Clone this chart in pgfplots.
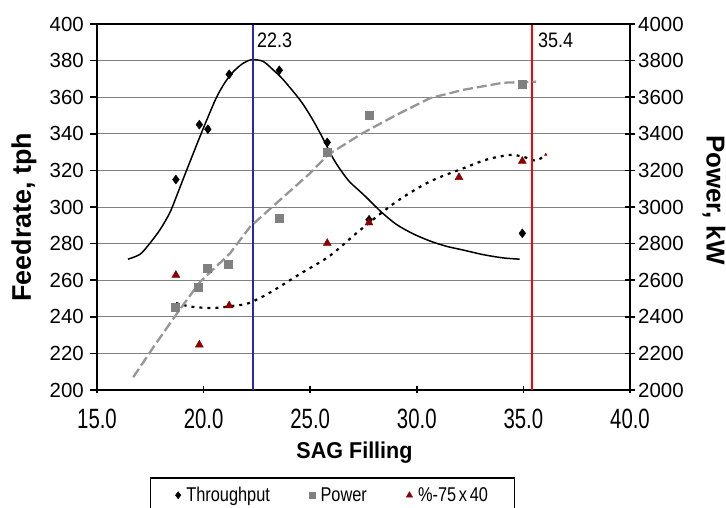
\documentclass[border=0pt]{standalone}
\usepackage{fontspec}
\setmainfont{Liberation Sans}
\usepackage{graphicx}
\usepackage{pgfplots}
\pgfplotsset{compat=1.18}
\definecolor{ptgray}{RGB}{128,128,128}
\definecolor{dashgray}{RGB}{150,150,150}
\definecolor{tri}{RGB}{140,0,0}
\definecolor{vblue}{RGB}{40,40,170}
\newcommand{\cx}[2]{\scalebox{#1}[1]{#2}}
\newcommand{\xl}[1]{\fontsize{28}{28}\selectfont\cx{0.73}{#1}}
\pgfplotsset{
  pointlegend/.style={legend image code/.code={\draw[##1] plot coordinates {(0bp,0bp)};}},
  squarelegend/.style={legend image code/.code={\draw[##1, mark size=2.8bp] plot coordinates {(0bp,0bp)};}},
}
\begin{document}
\begin{tikzpicture}
\useasboundingbox (0,0) rectangle (726bp,508bp);
% ---------------- left axis ----------------
\begin{axis}[
  at={(97bp,118bp)}, anchor=south west, scale only axis,
  width=533bp, height=366bp,
  xmin=15, xmax=40, ymin=200, ymax=400,
  axis x line*=bottom, axis y line*=left,
  axis line style={line width=1.8bp, black},
  xtick={15,20,...,40},
  xticklabels={\xl{15.0},\xl{20.0},\xl{25.0},\xl{30.0},\xl{35.0},\xl{40.0}},
  ytick={200,220,...,400},
  /pgf/number format/assume math mode=true,
  yticklabel={\fontsize{20.5}{20.5}\selectfont\pgfmathprintnumber{\tick}},
  ymajorgrids, grid style={ptgray, line width=0.8bp},
  tick style={black, line width=1.5bp},
  ytick align=outside, xtick align=center, major tick length=7bp,
  yticklabel style={inner sep=0pt, xshift=-6bp},
  xticklabel style={inner sep=0pt, yshift=-15bp},
  clip=false,
]
% throughput trend (solid)
\addplot[black, line width=1.5bp, smooth, tension=0.5] coordinates {
(16.45,271.5) (17.0,274) (17.4,279) (17.95,287.5) (18.42,297) (18.8,308) (19.2,320)
(19.83,338.5) (20.2,349) (20.61,360) (21.0,368) (21.4,374) (21.85,378.5) (22.27,380.5)
(22.8,379.5) (23.3,374.5) (23.74,369.5) (24.52,358.5) (25.0,350) (25.46,340.5)
(26.08,326.5) (26.5,319) (26.87,313.5) (27.48,307) (28.0,301) (28.41,296.5) (29.04,290.5)
(29.8,285.5) (30.6,281.5) (31.4,278.5) (32.17,276.5) (33.1,274) (34.04,272.2) (34.82,271.5)
};
% %-75 x 40 trend (dotted)
\addplot[black, line width=2.2bp, dash pattern=on 3bp off 5bp, smooth, tension=0.5] coordinates {
(18.7,247.5) (19.44,245.5) (20.45,244.8) (21.39,246) (22.0,247) (22.6,250) (23.27,254.3)
(24.52,263.4) (25.93,273.4) (27.34,287.4) (29.04,302.9) (30.6,313.8) (32.17,321.1)
(33.3,326) (34.35,328.4) (34.98,327.5) (35.6,325.3) (36.0,328.4)
};
\addplot[only marks, mark=triangle*, mark size=1.5bp, color=tri] coordinates {(36.05,328.6)};
% vertical reference lines
\addplot[vblue, line width=1.8bp] coordinates {(22.3,200) (22.3,400)};
\addplot[red, line width=1.8bp] coordinates {(35.4,200) (35.4,400)};
% throughput points
\addplot[only marks, mark=diamond*, mark size=4.5bp, black] coordinates {
(18.7,315) (19.8,345) (20.2,342.5) (21.2,372.5) (23.55,374.7) (25.8,335.3) (27.76,293) (34.95,285.6)
};
% %-75 x 40 points
\addplot[only marks, mark=triangle*, mark size=4.6bp, color=tri] coordinates {
(18.7,262.8) (19.8,224.7) (21.2,246.1) (25.8,280.2) (27.76,291.4) (31.98,316.2) (34.95,325.1)
};
\node[anchor=north west, inner sep=0pt, font=\fontsize{21}{21}\selectfont] at (axis cs:22.5,395.2) {\cx{0.86}{22.3}};
\node[anchor=north west, inner sep=0pt, font=\fontsize{21}{21}\selectfont] at (axis cs:35.68,395.2) {\cx{0.86}{35.4}};
\draw[black, line width=2.6bp] (rel axis cs:0,1) -- (rel axis cs:1,1);
\end{axis}
% ---------------- right axis ----------------
\begin{axis}[
  at={(97bp,118bp)}, anchor=south west, scale only axis,
  width=533bp, height=366bp,
  xmin=15, xmax=40, ymin=2000, ymax=4000,
  axis x line=none, axis y line*=right,
  axis line style={line width=1.8bp, black},
  ytick={2000,2200,...,4000},
  /pgf/number format/assume math mode=true,
  /pgf/number format/set thousands separator={},
  yticklabel={\fontsize{20.5}{20.5}\selectfont\pgfmathprintnumber{\tick}},
  tick style={black, line width=1.5bp},
  ytick align=center, major tick length=10bp,
  yticklabel style={inner sep=0pt, xshift=3bp},
  legend columns=3,
  legend style={at={(0.4418,-0.2377)}, anchor=north, draw=black, line width=1.6bp,
    inner xsep=25bp, inner ysep=8bp,
    font=\fontsize{20}{20}\selectfont,
    nodes={inner sep=1.5bp},
    /tikz/every even column/.append style={column sep=38bp},
    /tikz/every odd column/.append style={column sep=4bp}},
  legend cell align=left,
]
\addlegendimage{only marks, mark=diamond*, black, line width=0.4bp, mark size=3.6bp, pointlegend}
\addlegendentry{\cx{0.82}{Throughput}}
% power trend
\addplot[dashgray, line width=2.3bp, dash pattern=on 10bp off 4bp, forget plot] coordinates {
(16.7,2070) (17.64,2233) (18.73,2415) (19.83,2590) (21.24,2747) (22.18,2892) (23.58,3038)
(24.99,3184) (25.82,3284) (27.48,3405) (29.04,3503) (30.6,3594) (32.17,3640) (34.04,3679) (35.6,3685)
};
\addplot[only marks, mark=square*, mark size=4bp, color=ptgray, line width=0.4bp, squarelegend] coordinates {
(18.66,2452) (19.74,2561) (20.19,2665) (21.17,2687) (23.55,2938) (25.8,3302) (27.76,3499) (34.95,3670)
};
\addlegendentry{\cx{0.82}{Power}}
\addlegendimage{only marks, mark=triangle*, color=tri, line width=0.4bp, mark size=3.6bp, pointlegend}
\addlegendentry{\cx{0.82}{\%-75\,x\,40}}
\end{axis}
% axis titles
\node[rotate=90, font=\bfseries\fontsize{27}{27}\selectfont] at (24bp,291bp) {Feedrate, tph};
\node[rotate=-90, font=\bfseries\fontsize{26}{26}\selectfont] at (714bp,308bp) {Power, kW};
\node[font=\bfseries\fontsize{23}{23}\selectfont] at (354.5bp,55bp) {\cx{0.94}{SAG Filling}};
\end{tikzpicture}
\end{document}
